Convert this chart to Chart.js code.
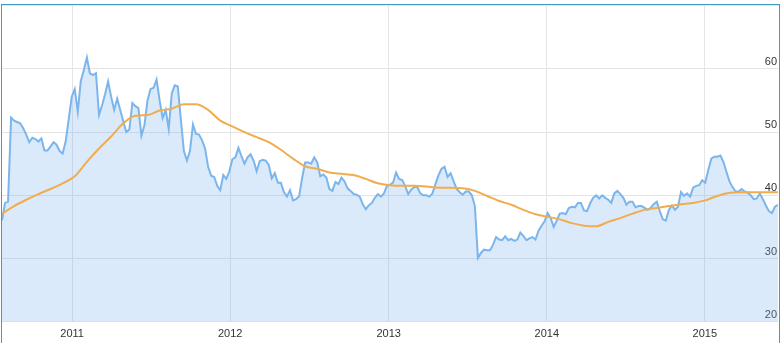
<!DOCTYPE html>
<html lang="en">
<head>
    <meta charset="UTF-8">
    <title>Price chart</title>
    <script src="https://cdn.jsdelivr.net/npm/chart.js"></script>
    <style>
        html, body {
            margin: 0;
            padding: 0;
            background: #fff;
            overflow: hidden;
        }
        #wrap {
            position: relative;
            width: 782px;
            height: 343px;
            overflow: hidden;
        }
        #frame {
            position: absolute;
            left: 1px;
            top: 4px;
            width: 777px;
            height: 360px;
            border: 1px solid #3f9cbf;
            border-bottom: none;
            box-shadow: inset 0 1px 0 #d4eef6;
            pointer-events: none;
        }
    </style>
</head>
<body>
    <div id="wrap">
        <canvas id="chart" width="782" height="347"></canvas>
        <div id="frame"></div>
    </div>

    <script>
        // weekly closing prices, first week starts 2010-07-23
        const startDate = Date.UTC(2010, 6, 23);
        const WEEK = 7 * 24 * 3600 * 1000;

        const price = [
            36.0, 38.8, 39.0, 52.3, 51.8, 51.6, 51.4, 50.6, 49.6, 48.4,
            49.1, 48.9, 48.5, 49.0, 47.1, 47.1, 47.7, 48.4, 48.0, 47.0,
            46.6, 48.5, 52.0, 55.6, 56.8, 53.2, 58.1, 59.8, 61.8, 59.3,
            59.0, 59.3, 52.7, 54.2, 56.0, 58.0, 55.6, 53.5, 55.3, 53.5,
            51.7, 50.0, 50.4, 54.6, 54.1, 53.8, 49.4, 51.1, 55.0, 56.8,
            57.0, 58.3, 55.0, 52.2, 53.5, 50.5, 56.1, 57.4, 57.2, 52.0,
            47.0, 45.5, 47.0, 51.2, 49.7, 49.6, 48.7, 47.4, 44.5, 43.1,
            42.9, 41.5, 40.8, 43.2, 42.6, 43.8, 45.7, 46.0, 47.5, 46.2,
            45.0, 46.0, 46.5, 45.5, 43.8, 45.4, 45.6, 45.5, 44.8, 42.7,
            43.5, 42.0, 42.0, 40.5, 39.8, 40.8, 39.2, 39.4, 39.8, 42.7,
            45.2, 45.2, 45.0, 46.0, 45.2, 43.0, 43.3, 42.8, 41.0, 40.7,
            42.1, 41.8, 42.8, 42.2, 41.1, 40.7, 40.2, 40.1, 39.8, 38.6,
            37.8, 38.4, 38.8, 39.6, 40.2, 39.8, 40.3, 41.5, 41.7, 42.0,
            43.6, 42.6, 42.4, 41.5, 40.2, 40.9, 41.3, 41.3, 40.3, 40.0,
            40.0, 39.8, 40.3, 41.8, 43.2, 44.2, 44.5, 42.9, 43.5, 42.2,
            41.0, 40.5, 40.1, 40.6, 40.6, 40.0, 38.3, 30.1, 30.9, 31.4,
            31.3, 31.3, 32.2, 33.4, 33.0, 32.9, 33.5, 32.9, 33.1, 32.8,
            33.0, 34.1, 33.6, 32.9, 33.2, 33.4, 33.0, 34.4, 35.2, 35.9,
            37.2, 36.4, 35.0, 36.0, 37.1, 37.2, 37.0, 38.0, 38.2, 38.1,
            38.8, 38.8, 37.6, 37.5, 38.7, 39.6, 40.0, 39.5, 40.0, 39.6,
            39.3, 38.8, 40.3, 40.7, 40.2, 39.6, 38.5, 39.0, 39.0, 38.1,
            38.3, 38.3, 38.0, 37.7, 38.0, 38.6, 39.0, 37.5, 36.2, 36.0,
            37.7, 38.4, 37.7, 38.2, 40.5, 39.9, 40.3, 39.8, 41.2, 41.5,
            41.6, 42.4, 42.0, 44.0, 45.8, 46.1, 46.1, 46.3, 45.3, 43.7,
            42.2, 41.3, 40.6, 40.6, 41.0, 40.6, 40.4, 40.0, 39.4, 39.5,
            40.3, 39.4, 38.4, 37.5, 37.2, 38.2, 38.5
        ];

        // moving average, one value every 4 weeks
        const AVG_STEP = 4;
        const average = [
            37.1, 38.3, 39.3, 40.2, 41.0, 41.9, 43.0, 45.3, 47.4, 49.3,
            51.4, 52.6, 52.7, 53.4, 53.7, 54.4, 54.4, 53.5, 51.8, 50.9,
            50.0, 49.2, 48.4, 47.2, 45.8, 44.6, 44.2, 43.6, 43.4, 43.2,
            42.6, 41.9, 41.6, 41.5, 41.5, 41.4, 41.2, 41.2, 41.1, 40.7,
            39.9, 39.1, 38.5, 37.7, 37.0, 36.6, 36.2, 35.6, 35.2, 35.1,
            35.8, 36.4, 37.1, 37.7, 38.0, 38.3, 38.6, 38.8, 39.2, 39.9,
            40.4, 40.5, 40.5, 40.5, 40.5
        ];

        const years = [2011, 2012, 2013, 2014, 2015];
        const yTicks = [20, 30, 40, 50, 60];

        const pricePoints = price.map((v, i) => ({ x: startDate + i * WEEK, y: v }));
        const avgPoints = average.map((v, i) => ({ x: startDate + i * AVG_STEP * WEEK, y: v }));

        const font = { family: "'Liberation Sans', Arial, sans-serif", size: 11 };

        new Chart(document.getElementById('chart'), {
            type: 'line',
            data: {
                datasets: [{
                    label: 'Average',
                    data: avgPoints,
                    borderColor: '#f0ad4e',
                    borderWidth: 2,
                    pointRadius: 0,
                    fill: false,
                    tension: 0.4,
                    cubicInterpolationMode: 'monotone'
                }, {
                    label: 'Price',
                    data: pricePoints,
                    borderColor: '#7cb5ec',
                    backgroundColor: 'rgba(124, 181, 236, 0.28)',
                    borderWidth: 2,
                    pointRadius: 0,
                    fill: 'start',
                    tension: 0
                }]
            },
            options: {
                responsive: false,
                animation: false,
                layout: { padding: { left: 2, top: 5, right: 4, bottom: 0 } },
                plugins: {
                    legend: { display: false },
                    tooltip: { enabled: false }
                },
                scales: {
                    x: {
                        type: 'linear',
                        min: startDate,
                        max: startDate + (price.length - 1) * WEEK,
                        afterBuildTicks: scale => {
                            scale.ticks = years.map(y => ({ value: Date.UTC(y, 0, 1) }));
                        },
                        ticks: {
                            font: font,
                            color: '#333',
                            padding: 6,
                            maxRotation: 0,
                            autoSkip: false,
                            callback: v => new Date(v).getUTCFullYear()
                        },
                        grid: { color: '#e4e4e4', drawTicks: false },
                        border: { display: false }
                    },
                    y: {
                        position: 'right',
                        min: 20,
                        max: 70,
                        afterBuildTicks: scale => {
                            scale.ticks = yTicks.map(v => ({ value: v }));
                        },
                        ticks: {
                            font: font,
                            color: '#333',
                            mirror: true,
                            padding: -1,
                            labelOffset: -7
                        },
                        grid: { color: '#e4e4e4', drawTicks: false },
                        border: { display: false }
                    }
                }
            }
        });
    </script>
</body>
</html>
